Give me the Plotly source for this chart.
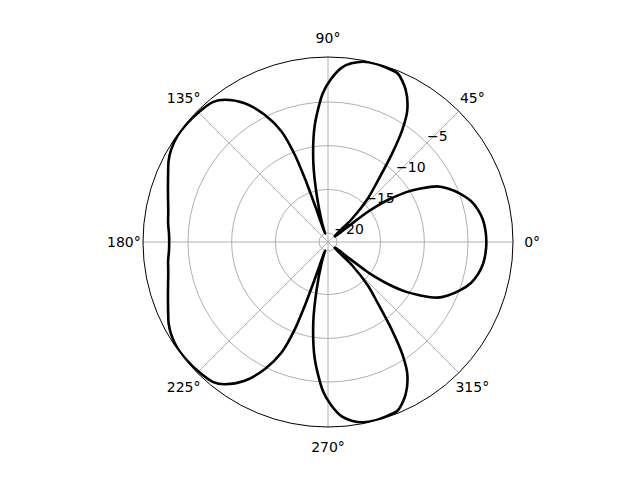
import plotly.graph_objects as go

# Angles (degrees) and values (dB)
theta_deg = [0, 4, 8, 12, 16, 20, 24, 27, 30, 32.5, 35, 36.4, 37.2, 37.6, 38.5, 41, 44, 47.5, 51, 54,
             56.5, 59, 63, 67.5, 71, 75, 79, 82.5, 85.5, 89, 92, 96.5, 100.4, 103.5, 107, 109, 109.6,
             110, 110.8, 112.8, 116.4, 121, 126, 129.3, 135, 140, 145, 149.6, 153, 156.7, 161, 165.3,
             169, 173.3, 177, 180,
             183, 186.7, 191, 194.7, 199, 203.3, 207, 210.4, 215, 220, 225, 230.7, 234, 239, 243.6,
             247.2, 249.2, 250, 250.4, 251, 253, 256.5, 259.6, 263.5, 268, 271, 274.5, 277.5, 281, 285,
             289, 292.5, 297, 301, 303.5, 306, 309, 312.5, 316, 319, 321.5, 322.4, 322.8, 323.6, 325,
             327.5, 330, 333, 336, 340, 344, 348, 352, 356, 360]

gain_db = [-2.9, -2.95, -3.1, -3.45, -4.0, -4.9, -6.0, -7.0, -8.8, -10.4, -12.6, -14.2, -15.5, -18.0,
           -20.0, -20.0, -17.2, -14.3, -11.9, -8.6, -5.6, -3.4, -1.45, -0.15, 0.0, 0.1, 0.0, -0.4, -1.0,
           -2.4, -4.0, -7.6, -11.7, -15.5, -18.6, -20.0, -16.5, -13.3, -10.4, -7.3, -4.8, -2.5, -0.9,
           -0.3, -0.05, 0.05, 0.05, -0.2, -0.55, -1.1, -1.65, -2.1, -2.4, -2.6, -2.8, -2.85,
           -2.8, -2.6, -2.4, -2.1, -1.65, -1.1, -0.55, -0.2, 0.05, 0.05, -0.05, -0.3, -0.9, -2.5, -4.8,
           -7.3, -10.4, -13.3, -16.5, -20.0, -18.6, -15.5, -11.7, -7.6, -4.0, -2.4, -1.0, -0.4, 0.0,
           0.1, 0.0, -0.15, -1.45, -3.4, -5.6, -8.6, -11.9, -14.3, -17.2, -20.0, -20.0, -18.0, -15.5,
           -14.2, -12.6, -10.4, -8.8, -7.0, -6.0, -4.9, -4.0, -3.45, -3.1, -2.95, -2.9]

angle_ticks = [0, 45, 90, 135, 180, 225, 270, 315]
angle_labels = ["0°", "45°", "90°", "135°", "180°", "225°", "270°", "315°"]
radial_ticks = [-20, -15, -10, -5]
radial_labels = ["−20", "−15", "−10", "−5"]

R_MIN, R_MAX = -21.03, 0.15
R_MAX_LABELS = 2.8      # extended radial range of the invisible label layer
LABEL_R = 2.34          # radius (in data units) where angle labels are centred
RLABEL_ANGLE = 45       # angle along which the radial labels sit

fig = go.Figure()
fig.add_trace(go.Scatterpolar(
    r=gain_db, theta=theta_deg, mode="lines",
    line=dict(color="black", width=2.6, shape="spline", smoothing=0.8),
    showlegend=False, hoverinfo="skip",
))
# radial tick labels (placed like matplotlib's), on the label layer
fig.add_trace(go.Scatterpolar(
    r=radial_ticks, theta=[RLABEL_ANGLE] * len(radial_ticks), mode="text",
    text=radial_labels, textposition="top right",
    textfont=dict(family="DejaVu Sans", size=14, color="black"),
    showlegend=False, hoverinfo="skip", cliponaxis=False, subplot="polar2",
))
# angular tick labels on an invisible polar layer with the same scale
fig.add_trace(go.Scatterpolar(
    r=[LABEL_R] * len(angle_ticks), theta=angle_ticks, mode="text",
    text=angle_labels, textposition="middle center",
    textfont=dict(family="DejaVu Sans", size=14, color="black"),
    showlegend=False, hoverinfo="skip", cliponaxis=False, subplot="polar2",
))

W, H = 640, 480
# circle centre in page coords is (328, 242); page body adds an 8px offset
cx, cy, R = 320, 234, 185
cy_text = cy + 2        # small baseline correction for text
R2 = R * (R_MAX_LABELS - R_MIN) / (R_MAX - R_MIN)


def dom(rad, yc):
    return dict(x=[(cx - rad) / W, (cx + rad) / W], y=[(H - yc - rad) / H, (H - yc + rad) / H])


fig.update_layout(
    width=W, height=H,
    margin=dict(l=0, r=0, t=0, b=0),
    paper_bgcolor="white", plot_bgcolor="white",
    font=dict(family="DejaVu Sans", size=14, color="black"),
    polar=dict(
        domain=dom(R, cy),
        bgcolor="white",
        angularaxis=dict(
            direction="counterclockwise", rotation=0,
            tickmode="array", tickvals=angle_ticks, ticktext=angle_labels,
            showticklabels=False,
            showgrid=True, gridcolor="#b0b0b0", gridwidth=1,
            showline=True, linecolor="black", linewidth=1,
            ticks="",
        ),
        radialaxis=dict(
            range=[R_MIN, R_MAX], angle=45,
            tickmode="array", tickvals=radial_ticks, ticktext=radial_labels,
            showticklabels=False,
            showgrid=True, gridcolor="#b0b0b0", gridwidth=1,
            showline=False, ticks="",
        ),
    ),
    polar2=dict(
        domain=dom(R2, cy_text),
        bgcolor="rgba(0,0,0,0)",
        angularaxis=dict(direction="counterclockwise", rotation=0, visible=False,
                         showgrid=False, showline=False),
        radialaxis=dict(range=[R_MIN, R_MAX_LABELS], visible=False,
                        showgrid=False, showline=False),
    ),
)
fig.write_html("out.html")
